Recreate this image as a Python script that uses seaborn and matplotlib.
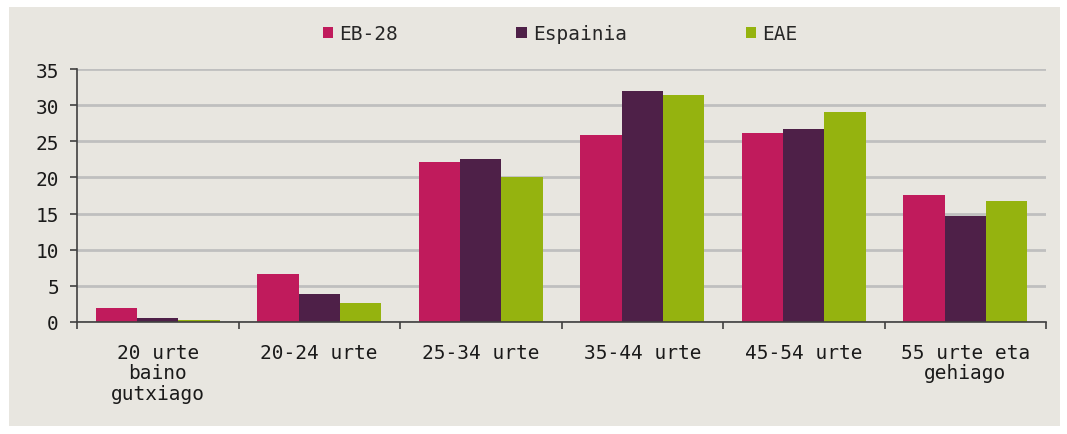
import matplotlib
matplotlib.use("Agg")
import matplotlib.pyplot as plt
import seaborn as sns
import pandas as pd
import numpy as np
from matplotlib.patches import Rectangle

categories = ["20 urte\nbaino\ngutxiago", "20-24 urte", "25-34 urte", "35-44 urte", "45-54 urte", "55 urte eta\ngehiago"]
series = ["EB-28", "Espainia", "EAE"]
eb28 = [1.9, 6.6, 22.1, 25.9, 26.1, 17.6]
espainia = [0.5, 3.9, 22.6, 31.9, 26.7, 14.6]
eae = [0.25, 2.6, 20.1, 31.4, 29.0, 16.7]
colors = ["#C01B5C", "#4E2048", "#95B30F"]
yticks = [0, 5, 10, 15, 20, 25, 30, 35]

rows = []
for s, vals in zip(series, [eb28, espainia, eae]):
    for c, v in zip(categories, vals):
        rows.append({"cat": c, "series": s, "val": v})
df = pd.DataFrame(rows)

sns.set_theme(style="white")
plt.rcParams['font.family'] = ['DejaVu Sans Mono', 'DejaVu Sans']
bg = "#E8E6E0"
fs = 14
fig = plt.figure(figsize=(10.67, 4.35), dpi=100, facecolor="white")
fig.patches.append(Rectangle((9/1067, 1 - 427/435), (1060-9)/1067, (427-8)/435,
                             transform=fig.transFigure, facecolor=bg, edgecolor="none", zorder=-10))
ax = fig.add_axes([77/1067, 1 - 323/435, (1046-77)/1067, (323-70)/435])
ax.set_facecolor(bg)
ax.patch.set_alpha(0)

sns.barplot(data=df, x="cat", y="val", hue="series", palette=colors, width=0.77,
            saturation=1, ax=ax, legend=True, edgecolor="none", linewidth=0)

ax.set_ylim(0, 35)
ax.set_xlim(-0.5, len(categories) - 0.5)
ax.set_yticks(yticks)
ax.yaxis.grid(True, color="#BFBFBF", linewidth=2)
ax.set_axisbelow(True)
for side in ["top", "right"]:
    ax.spines[side].set_visible(False)
for side in ["left", "bottom"]:
    ax.spines[side].set_color("#404040")
    ax.spines[side].set_linewidth(1.2)
ax.set_xlabel("")
ax.set_ylabel("")
ax.tick_params(axis="y", left=True, length=5, width=1.2, color="#404040", labelsize=fs, pad=8, labelcolor="#1a1a1a")
ax.tick_params(axis="x", which="major", bottom=False, labelsize=fs, pad=9, labelcolor="#1a1a1a")
ax.set_xticks(np.arange(-0.5, len(categories)), minor=True)
ax.tick_params(axis="x", which="minor", bottom=True, length=5, width=1.2, color="#404040")
for lbl in ax.get_xticklabels():
    lbl.set_linespacing(1.1)

h, l = ax.get_legend_handles_labels()
ax.get_legend().remove()
fig.legend(h, l, loc="center", bbox_to_anchor=(560/1067, 1 - 35/435), ncol=3, frameon=False,
           fontsize=fs, handlelength=0.55, handleheight=0.55, handletextpad=0.3, columnspacing=6.1)

fig.savefig("out.png", dpi=100, facecolor="white")
